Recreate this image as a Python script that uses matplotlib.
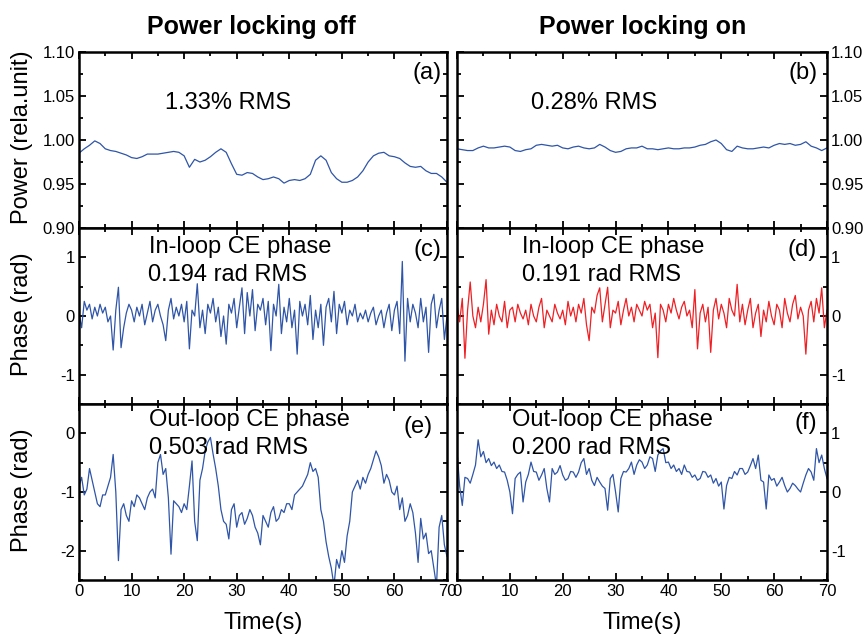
import numpy as np
import matplotlib
matplotlib.use("Agg")
import matplotlib.pyplot as plt
from matplotlib.ticker import MultipleLocator

plt.rcParams['font.family'] = ['Liberation Sans', 'DejaVu Sans']

# ---- data ----
t_power = np.arange(0, 71, 1.0)
t_phase = np.arange(0, 70.01, 0.5)

power_off = [0.985, 0.990, 0.994, 0.999, 0.996, 0.990, 0.988, 0.987, 0.985, 0.983,
             0.980, 0.979, 0.981, 0.984, 0.984, 0.984, 0.985, 0.986, 0.987, 0.986,
             0.982, 0.969, 0.978, 0.975, 0.977, 0.981, 0.986, 0.990, 0.986, 0.973,
             0.961, 0.960, 0.963, 0.962, 0.958, 0.955, 0.956, 0.958, 0.956, 0.951,
             0.954, 0.955, 0.954, 0.956, 0.961, 0.977, 0.982, 0.977, 0.963, 0.956,
             0.952, 0.952, 0.954, 0.958, 0.965, 0.975, 0.982, 0.985, 0.986, 0.982,
             0.981, 0.979, 0.974, 0.970, 0.969, 0.970, 0.965, 0.962, 0.962, 0.958, 0.952]

power_on = [0.990, 0.989, 0.988, 0.988, 0.991, 0.993, 0.991, 0.991, 0.992, 0.993,
            0.992, 0.988, 0.987, 0.989, 0.990, 0.994, 0.995, 0.994, 0.993, 0.994,
            0.991, 0.990, 0.992, 0.993, 0.991, 0.990, 0.991, 0.995, 0.992, 0.988,
            0.986, 0.987, 0.990, 0.991, 0.991, 0.993, 0.990, 0.990, 0.989, 0.990,
            0.991, 0.990, 0.990, 0.991, 0.991, 0.992, 0.994, 0.995, 0.998, 1.000,
            0.996, 0.989, 0.987, 0.993, 0.991, 0.990, 0.990, 0.991, 0.992, 0.991,
            0.994, 0.996, 0.995, 0.996, 0.994, 0.995, 0.998, 0.993, 0.991, 0.988, 0.991]

inloop_off = [0.05, -0.2, 0.25, 0.1, 0.2, -0.05, 0.15, 0.0, 0.2, 0.05,
              0.15, -0.1, 0.0, -0.58, 0.1, 0.49, -0.54, -0.2, 0.05, 0.2,
              0.1, -0.1, 0.15, 0.0, 0.2, -0.15, 0.05, 0.25, -0.1, 0.1,
              0.2, 0.0, -0.15, -0.42, 0.1, 0.3, -0.05, 0.15, 0.0, 0.2,
              -0.1, 0.25, -0.56, 0.1, 0.0, 0.55, -0.2, 0.1, -0.3, 0.2,
              0.05, 0.3, -0.1, 0.15, -0.35, 0.0, -0.48, 0.2, 0.05, 0.3,
              -0.2, 0.15, 0.48, -0.3, 0.4, 0.0, 0.45, -0.25, 0.2, 0.1,
              0.3, -0.15, 0.25, -0.59, 0.2, 0.0, 0.54, -0.3, 0.15, -0.1,
              0.3, -0.2, 0.1, -0.65, 0.25, 0.0, 0.2, -0.15, 0.35, -0.4,
              0.1, -0.2, 0.2, -0.5, 0.15, 0.3, -0.1, 0.42, -0.3, 0.2,
              0.05, 0.25, -0.15, 0.1, 0.0, 0.2, -0.1, 0.05, -0.05, 0.1,
              -0.1, 0.05, 0.15, -0.15, 0.0, 0.1, -0.2, 0.05, 0.2, -0.25,
              0.1, 0.25, -0.3, 0.93, -0.77, 0.3, -0.1, 0.2, 0.05, -0.2,
              0.3, -0.1, 0.15, -0.62, 0.2, 0.37, -0.2, 0.1, 0.3, -0.4,
              0.0]

inloop_on = [0.2, -0.1, 0.3, -0.72, 0.1, 0.58, 0.0, -0.2, 0.15, -0.1,
             0.2, 0.62, -0.31, 0.1, -0.15, 0.2, 0.0, -0.1, 0.25, -0.2,
             0.1, 0.15, -0.1, 0.2, 0.05, -0.05, 0.1, -0.15, 0.2, 0.0,
             -0.1, 0.15, 0.3, -0.2, 0.1, 0.0, -0.1, 0.2, 0.05, -0.05,
             0.1, -0.15, 0.25, 0.0, 0.15, -0.1, 0.2, 0.05, 0.3, -0.15,
             -0.42, 0.15, 0.05, 0.35, 0.48, -0.1, 0.2, 0.49, -0.2, 0.1,
             0.05, 0.25, -0.15, 0.1, 0.3, 0.0, 0.15, -0.1, 0.2, 0.1,
             0.0, 0.25, 0.1, 0.2, -0.2, 0.05, -0.71, 0.2, 0.1, -0.1,
             0.2, 0.05, 0.3, 0.1, -0.05, 0.15, 0.25, 0.0, 0.1, -0.2,
             0.45, -0.56, 0.05, 0.2, -0.1, 0.15, -0.62, 0.1, 0.3, -0.05,
             0.2, 0.05, -0.2, 0.3, 0.1, 0.0, 0.54, -0.1, 0.2, -0.15,
             0.1, 0.3, -0.2, 0.05, 0.2, -0.35, 0.1, -0.1, 0.25, 0.0,
             -0.15, 0.2, 0.1, -0.2, 0.3, 0.05, -0.1, 0.2, 0.35, -0.05,
             0.15, 0.0, -0.65, 0.1, 0.25, -0.1, 0.3, 0.05, 0.48, -0.2,
             0.1]

outloop_off = [-0.9, -0.75, -1.05, -0.95, -0.6, -0.8, -1.0, -1.2, -1.25, -1.05,
               -1.05, -0.9, -0.75, -0.36, -1.0, -2.17, -1.3, -1.2, -1.4, -1.5,
               -1.15, -1.25, -1.05, -1.1, -1.2, -1.3, -1.1, -1.0, -0.95, -1.1,
               -0.5, -0.36, -0.7, -0.6, -1.1, -2.06, -1.15, -1.2, -1.25, -1.35,
               -1.2, -1.3, -0.9, -0.47, -1.5, -1.83, -0.8, -0.6, -0.3, -0.15,
               -0.07, -0.35, -0.6, -0.9, -1.3, -1.5, -1.55, -1.8, -1.3, -1.2,
               -1.6, -1.4, -1.35, -1.55, -1.45, -1.3, -1.4, -1.6, -1.7, -1.9,
               -1.4, -1.5, -1.6, -1.35, -1.25, -1.5, -1.45, -1.3, -1.35, -1.2,
               -1.2, -1.3, -1.05, -1.0, -0.95, -0.9, -0.8, -0.7, -0.5, -0.65,
               -0.6, -0.75, -1.3, -1.5, -1.85, -2.1, -2.3, -2.6, -2.15, -2.3,
               -2.0, -2.2, -1.75, -1.5, -1.0, -0.9, -0.8, -0.95, -0.75, -0.85,
               -0.7, -0.6, -0.45, -0.3, -0.4, -0.55, -0.85, -0.7, -0.8, -1.0,
               -1.05, -0.9, -1.3, -1.1, -1.5, -1.4, -1.2, -1.35, -1.7, -2.2,
               -1.45, -1.8, -1.7, -2.05, -2.0, -2.3, -2.6, -1.6, -1.4, -1.9,
               -2.1]

outloop_on = [0.7, 0.1, -0.23, 0.25, 0.23, 0.15, 0.3, 0.46, 0.89, 0.6,
              0.69, 0.5, 0.57, 0.45, 0.51, 0.4, 0.46, 0.35, 0.34, 0.2,
              0.0, -0.37, 0.23, 0.3, 0.34, -0.17, 0.17, 0.3, 0.51, 0.35,
              0.34, 0.2, 0.29, 0.4, 0.06, -0.17, 0.4, 0.3, 0.34, 0.45,
              0.29, 0.2, 0.23, 0.35, 0.34, 0.25, 0.34, 0.5, 0.57, 0.3,
              0.4, 0.2, 0.11, 0.25, 0.17, 0.1, 0.06, -0.31, 0.23, 0.3,
              0.0, -0.34, 0.23, 0.35, 0.34, 0.4, 0.51, 0.3, 0.46, 0.55,
              0.51, 0.4, 0.46, 0.6, 0.57, 0.35, 0.63, 0.7, 0.74, 0.5,
              0.51, 0.4, 0.46, 0.35, 0.40, 0.3, 0.46, 0.35, 0.34, 0.25,
              0.29, 0.2, 0.23, 0.35, 0.34, 0.25, 0.29, 0.15, 0.23, 0.1,
              0.17, -0.29, 0.11, 0.25, 0.23, 0.35, 0.29, 0.4, 0.40, 0.3,
              0.34, 0.45, 0.57, 0.4, 0.63, 0.2, 0.17, -0.29, 0.29, 0.2,
              0.23, 0.1, 0.17, 0.25, 0.11, 0.0, 0.06, 0.15, 0.11, 0.05,
              0.0, 0.15, 0.29, 0.4, 0.34, 0.2, 0.74, 0.5, 0.63, 0.4,
              0.23]

BLUE = '#2f55a8'
RED = '#ee2024'

fig = plt.figure(figsize=(8.66, 6.35), dpi=100)

W, H = 866.0, 635.0
cols = [(79, 447), (457, 827)]
rows = [(52, 228), (228, 404), (404, 580)]


def make_ax(r, c):
    x0, x1 = cols[c]
    y0, y1 = rows[r]
    return fig.add_axes([x0 / W, 1 - y1 / H, (x1 - x0) / W, (y1 - y0) / H])


panels = [
    (0, 0, t_power, power_off, BLUE, (0.9, 1.1), 0.05, 0.025, '(a)', ['1.33% RMS']),
    (0, 1, t_power, power_on, BLUE, (0.9, 1.1), 0.05, 0.025, '(b)', ['0.28% RMS']),
    (1, 0, t_phase, inloop_off, BLUE, (-1.5, 1.5), 1, 0.5, '(c)', ['In-loop CE phase', '0.194 rad RMS']),
    (1, 1, t_phase, inloop_on, RED, (-1.5, 1.5), 1, 0.5, '(d)', ['In-loop CE phase', '0.191 rad RMS']),
    (2, 0, t_phase, outloop_off, BLUE, (-2.5, 0.5), 1, 0.5, '(e)', ['Out-loop CE phase', '0.503 rad RMS']),
    (2, 1, t_phase, outloop_on, BLUE, (-1.5, 1.5), 1, 0.5, '(f)', ['Out-loop CE phase', '0.200 rad RMS']),
]

text_pos = {
    '(a)': ((0.986, 0.88), [(0.234, 0.71)]),
    '(b)': ((0.976, 0.88), [(0.20, 0.71)]),
    '(c)': ((0.986, 0.875), [(0.19, 0.89), (0.188, 0.733)]),
    '(d)': ((0.973, 0.875), [(0.176, 0.89), (0.176, 0.733)]),
    '(e)': ((0.96, 0.87), [(0.19, 0.91), (0.19, 0.75)]),
    '(f)': ((0.973, 0.89), [(0.149, 0.91), (0.149, 0.75)]),
}

for r, c, t, y, color, ylim, major, minor, tag, notes in panels:
    ax = make_ax(r, c)
    ax.plot(t, y, color=color, lw=0.9)
    ax.set_xlim(0, 70)
    ax.set_ylim(*ylim)
    ax.xaxis.set_major_locator(MultipleLocator(10))
    ax.xaxis.set_minor_locator(MultipleLocator(5))
    ax.yaxis.set_major_locator(MultipleLocator(major))
    ax.yaxis.set_minor_locator(MultipleLocator(minor))
    ax.tick_params(which='both', direction='in', top=True, bottom=True,
                   left=True, right=True, width=1.3, labelsize=12)
    ax.tick_params(which='major', length=5)
    ax.tick_params(which='minor', length=3)
    ax.tick_params(axis='x', labelbottom=(r == 2), pad=3)
    if c == 1:
        ax.tick_params(axis='y', labelleft=False, labelright=True, pad=3)
    else:
        ax.tick_params(axis='y', pad=3)
    if ylim[0] == 0.9:
        ax.yaxis.set_major_formatter(plt.FormatStrFormatter('%.2f'))
    else:
        ax.yaxis.set_major_formatter(plt.FormatStrFormatter('%d'))
    for s in ax.spines.values():
        s.set_linewidth(1.8)
    (tx, ty), note_pos = text_pos[tag]
    ax.text(tx, ty, tag, transform=ax.transAxes, ha='right', va='center', fontsize=17)
    for (nx, ny), note in zip(note_pos, notes):
        ax.text(nx, ny, note, transform=ax.transAxes, ha='left', va='center', fontsize=17)
    if r == 2:
        ax.set_xlabel('Time(s)', fontsize=17, labelpad=9)

fig.text(251 / W, 1 - 27 / H, 'Power locking off', ha='center', va='center',
         fontsize=18, fontweight='bold')
fig.text(643 / W, 1 - 27 / H, 'Power locking on', ha='center', va='center',
         fontsize=18, fontweight='bold')
fig.text(22 / W, 1 - 137 / H, 'Power (rela.unit)', rotation=90, ha='center', va='center', fontsize=17)
fig.text(22 / W, 1 - 314 / H, 'Phase (rad)', rotation=90, ha='center', va='center', fontsize=17)
fig.text(22 / W, 1 - 490 / H, 'Phase (rad)', rotation=90, ha='center', va='center', fontsize=17)

fig.savefig('out.png', dpi=100)
